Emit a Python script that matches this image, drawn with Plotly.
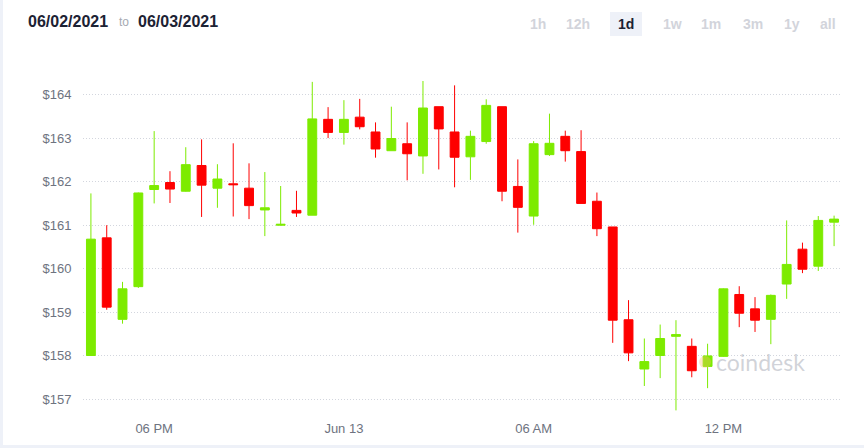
import plotly.graph_objects as go

times = [
    "2021-06-12 16:00", "2021-06-12 16:30", "2021-06-12 17:00", "2021-06-12 17:30",
    "2021-06-12 18:00", "2021-06-12 18:30", "2021-06-12 19:00", "2021-06-12 19:30",
    "2021-06-12 20:00", "2021-06-12 20:30", "2021-06-12 21:00", "2021-06-12 21:30",
    "2021-06-12 22:00", "2021-06-12 22:30", "2021-06-12 23:00", "2021-06-12 23:30",
    "2021-06-13 00:00", "2021-06-13 00:30", "2021-06-13 01:00", "2021-06-13 01:30",
    "2021-06-13 02:00", "2021-06-13 02:30", "2021-06-13 03:00", "2021-06-13 03:30",
    "2021-06-13 04:00", "2021-06-13 04:30", "2021-06-13 05:00", "2021-06-13 05:30",
    "2021-06-13 06:00", "2021-06-13 06:30", "2021-06-13 07:00", "2021-06-13 07:30",
    "2021-06-13 08:00", "2021-06-13 08:30", "2021-06-13 09:00", "2021-06-13 09:30",
    "2021-06-13 10:00", "2021-06-13 10:30", "2021-06-13 11:00", "2021-06-13 11:30",
    "2021-06-13 12:00", "2021-06-13 12:30", "2021-06-13 13:00", "2021-06-13 13:30",
    "2021-06-13 14:00", "2021-06-13 14:30", "2021-06-13 15:00", "2021-06-13 15:30",
]

open_ = [158.01, 160.71, 158.84, 159.59, 161.82, 161.98, 161.78, 162.37,
         161.85, 161.95, 161.85, 161.35, 161.00, 161.34, 161.23, 163.43,
         163.13, 163.48, 163.14, 162.71, 162.87, 162.59, 163.72, 163.14,
         162.57, 162.92, 163.72, 161.89, 161.21, 162.62, 163.04, 162.69,
         161.55, 160.96, 158.83, 157.70, 158.01, 158.45, 158.22, 157.76,
         157.99, 159.41, 159.08, 158.84, 159.65, 160.45, 160.06, 161.07]
high = [161.73, 161.00, 159.70, 161.75, 163.16, 162.24, 162.79, 162.97,
        162.40, 162.88, 162.42, 162.22, 161.90, 161.79, 164.29, 163.71,
        163.87, 163.90, 163.36, 163.72, 163.36, 164.31, 163.72, 164.21,
        163.17, 163.89, 163.72, 162.51, 162.93, 163.56, 163.17, 163.18,
        161.75, 160.96, 159.28, 158.40, 158.72, 158.82, 158.40, 158.28,
        159.55, 159.60, 159.35, 159.41, 161.11, 160.60, 161.21, 161.22]
low = [158.00, 159.06, 158.74, 159.56, 161.50, 161.51, 161.77, 161.19,
       161.40, 161.20, 161.14, 160.75, 160.99, 161.19, 161.23, 163.00,
       162.85, 163.20, 162.55, 162.71, 162.03, 162.18, 162.28, 161.87,
       162.04, 162.87, 161.55, 160.83, 161.01, 162.59, 162.46, 161.50,
       160.75, 158.30, 157.88, 157.31, 157.49, 156.75, 157.51, 157.26,
       157.98, 158.66, 158.55, 158.27, 159.31, 159.90, 159.95, 160.52]
close = [160.68, 159.12, 159.54, 161.74, 161.91, 161.83, 162.39, 161.92,
         162.06, 161.93, 161.45, 161.40, 161.02, 161.28, 163.44, 163.13,
         163.43, 163.26, 162.75, 162.99, 162.64, 163.69, 163.21, 162.56,
         163.04, 163.75, 161.78, 161.41, 162.87, 162.88, 162.71, 161.50,
         160.92, 158.82, 158.07, 157.87, 158.40, 158.49, 157.66, 158.00,
         159.54, 158.98, 158.82, 159.39, 160.10, 159.99, 161.11, 161.14]

y_ticks = [157, 158, 159, 160, 161, 162, 163, 164]
y_tick_labels = ["$157", "$158", "$159", "$160", "$161", "$162", "$163", "$164"]
x_ticks = ["2021-06-12 18:00", "2021-06-13 00:00", "2021-06-13 06:00", "2021-06-13 12:00"]
x_tick_labels = ["06 PM", "Jun 13", "06 AM", "12 PM"]
ranges = ["1h", "12h", "1d", "1w", "1m", "3m", "1y", "all"]
range_px = [537.5, 578, 626, 672, 711, 753, 792, 828]
selected_range = "1d"
date_from = "06/02/2021"
date_to = "06/03/2021"

W, H = 864, 448
L, R, T, B = 83, 842, 75, 412
PW, PH = R - L, B - T


def xp(px):
    return (px - L) / PW


def yp(py):
    return (B - py) / PH


GREEN = "#7DEB00"
RED = "#FE0000"
GREY = "#6e7380"

fig = go.Figure(go.Candlestick(
    x=times, open=open_, high=high, low=low, close=close,
    increasing=dict(line=dict(color=GREEN, width=1), fillcolor=GREEN),
    decreasing=dict(line=dict(color=RED, width=1), fillcolor=RED),
    whiskerwidth=0,
    showlegend=False,
))

font_main = "Liberation Sans, Arial, sans-serif"

annotations = [
    dict(text="<b>%s</b>" % date_from, x=xp(26), y=yp(21), xanchor="left", yanchor="middle",
         font=dict(size=16, color="#1c2233", family=font_main)),
    dict(text="to", x=xp(117), y=yp(22), xanchor="left", yanchor="middle",
         font=dict(size=12, color="#a6a9b2", family=font_main)),
    dict(text="<b>%s</b>" % date_to, x=xp(136), y=yp(21), xanchor="left", yanchor="middle",
         font=dict(size=16, color="#1c2233", family=font_main)),
    dict(text="coindesk", x=xp(760), y=yp(362), xanchor="center", yanchor="middle",
         font=dict(size=23, color="rgba(170,174,184,0.55)", family="Lato, Liberation Sans, sans-serif")),
]
shapes = [
    dict(type="rect", xref="paper", yref="paper", x0=xp(0), x1=xp(3), y0=yp(0), y1=yp(H),
         fillcolor="#eef1f8", line=dict(width=0)),
    dict(type="rect", xref="paper", yref="paper", x0=xp(0), x1=xp(W), y0=yp(445), y1=yp(H),
         fillcolor="#eef1f8", line=dict(width=0)),
    dict(type="circle", xref="paper", yref="paper", x0=xp(699), x1=xp(711), y0=yp(356), y1=yp(368),
         fillcolor="rgba(255,190,110,0.35)", line=dict(width=0)),
]
for lab, px in zip(ranges, range_px):
    sel = lab == selected_range
    if sel:
        shapes.append(dict(type="rect", xref="paper", yref="paper", x0=xp(px - 16), x1=xp(px + 16),
                           y0=yp(12), y1=yp(36), fillcolor="#eef1f8", line=dict(width=0),
                           layer="below"))
    annotations.append(dict(text="<b>%s</b>" % lab, x=xp(px), y=yp(24), xanchor="center",
                            yanchor="middle",
                            font=dict(size=14, color="#1c2233" if sel else "#d2d4db",
                                      family=font_main)))

fig.update_layout(
    width=W, height=H,
    margin=dict(l=L, r=W - R, t=T, b=H - B, pad=0),
    paper_bgcolor="white", plot_bgcolor="white",
    boxgap=0.2,
    annotations=[dict(a, xref="paper", yref="paper", showarrow=False) for a in annotations],
    shapes=shapes,
    xaxis=dict(
        type="date",
        range=["2021-06-12 15:45", "2021-06-13 15:45"],
        rangeslider=dict(visible=False),
        showgrid=False, zeroline=False, showline=False,
        tickvals=x_ticks, ticktext=x_tick_labels,
        ticks="outside", ticklen=4, tickcolor="rgba(0,0,0,0)",
        tickfont=dict(size=13, color=GREY, family=font_main),
    ),
    yaxis=dict(
        range=[156.713, 164.4476],
        showgrid=True, gridcolor="#d3d6de", griddash="1px,2px", gridwidth=1,
        zeroline=False, showline=False,
        tickvals=y_ticks, ticktext=y_tick_labels,
        ticks="outside", ticklen=8, tickcolor="rgba(0,0,0,0)",
        tickfont=dict(size=13, color=GREY, family=font_main),
    ),
    hovermode=False,
)

fig.write_html("out.html")
